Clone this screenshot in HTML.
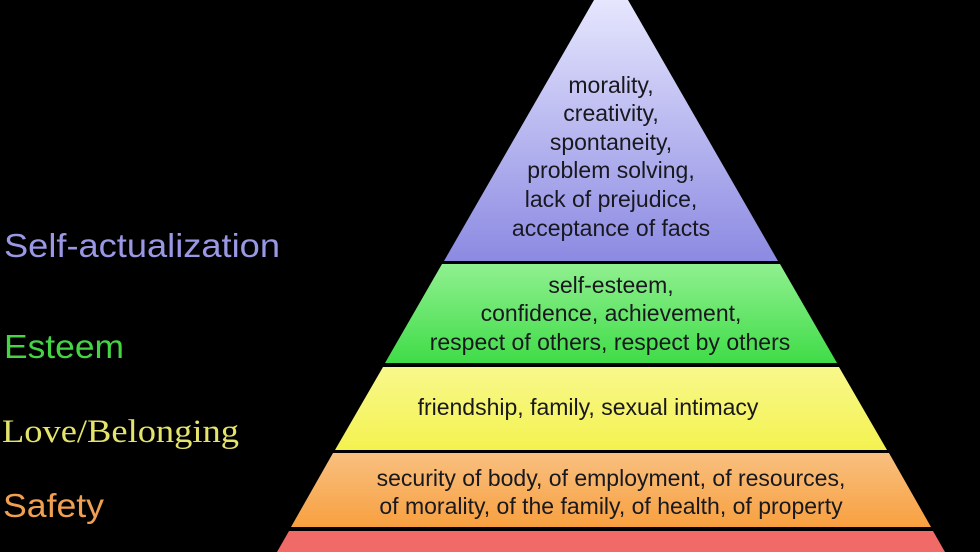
<!DOCTYPE html>
<html><head><meta charset="utf-8"><style>
html,body{margin:0;padding:0;background:#000;}
svg{display:block;}
.t{font-family:"Liberation Sans",sans-serif;font-size:23px;fill:#18181e;text-anchor:middle;}
.l{font-family:"Liberation Sans",sans-serif;font-size:33px;}
</style></head><body>
<svg width="980" height="552" viewBox="0 0 980 552" xmlns="http://www.w3.org/2000/svg">
<defs>
<linearGradient id="gp" x1="0" y1="0" x2="0" y2="1"><stop offset="0" stop-color="#e6e6fe"/><stop offset="1" stop-color="#8c8ae2"/></linearGradient>
<linearGradient id="gg" x1="0" y1="0" x2="0" y2="1"><stop offset="0" stop-color="#90f090"/><stop offset="1" stop-color="#40dc48"/></linearGradient>
<linearGradient id="gy" x1="0" y1="0" x2="0" y2="1"><stop offset="0" stop-color="#f8f88c"/><stop offset="1" stop-color="#f4f250"/></linearGradient>
<linearGradient id="go" x1="0" y1="0" x2="0" y2="1"><stop offset="0" stop-color="#f8c080"/><stop offset="1" stop-color="#f8a040"/></linearGradient>
</defs>
<rect width="980" height="552" fill="#000"/>
<polygon points="594,0 628,0 778,261 444,261" fill="url(#gp)"/>
<polygon points="442,264 780,264 837,363 385,363" fill="url(#gg)"/>
<polygon points="383,367 839,367 887,450 335,450" fill="url(#gy)"/>
<polygon points="333,453 889,453 931,527 291,527" fill="url(#go)"/>
<polygon points="289,531 933,531 945,552 277,552" fill="#f06a68"/>
<text class="t" x="611" y="93">morality,</text>
<text class="t" x="611" y="121">creativity,</text>
<text class="t" x="611" y="150">spontaneity,</text>
<text class="t" x="611" y="178">problem solving,</text>
<text class="t" x="611" y="207">lack of prejudice,</text>
<text class="t" x="611" y="236">acceptance of facts</text>
<text class="t" x="611" y="293">self-esteem,</text>
<text class="t" x="611" y="321">confidence, achievement,</text>
<text class="t" x="610" y="350">respect of others, respect by others</text>
<text class="t" x="588" y="415">friendship, family, sexual intimacy</text>
<text class="t" x="611" y="486">security of body, of employment, of resources,</text>
<text class="t" x="611" y="514">of morality, of the family, of health, of property</text>
<text class="l" x="4" y="257" fill="#9a98e4" textLength="276" lengthAdjust="spacingAndGlyphs">Self-actualization</text>
<text class="l" x="4" y="358" fill="#44d444" textLength="120" lengthAdjust="spacingAndGlyphs">Esteem</text>
<text x="2" y="442" fill="#e4e46c" font-family="'Liberation Serif',serif" font-size="33" textLength="237" lengthAdjust="spacingAndGlyphs">Love/Belonging</text>
<text class="l" x="3" y="517" fill="#f0a050" textLength="101" lengthAdjust="spacingAndGlyphs">Safety</text>
</svg>
</body></html>
